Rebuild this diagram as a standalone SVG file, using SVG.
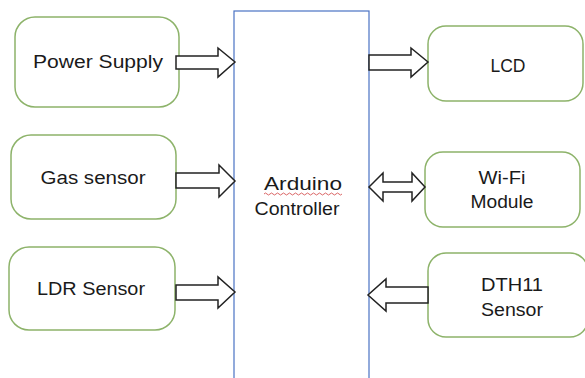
<svg xmlns="http://www.w3.org/2000/svg" width="585" height="378" viewBox="0 0 585 378">
<style>
.box{fill:#fff;stroke:#8db36a;stroke-width:1.5}
.ctrl{fill:#fff;stroke:#4a72c4;stroke-width:1.2}
.arr{fill:#fff;stroke:#222;stroke-width:1.5;stroke-linejoin:miter}
text{font-family:"Liberation Sans",Arial,sans-serif;font-size:18px;fill:#1a1a1a;text-anchor:middle}
</style>
<rect width="585" height="378" fill="#fff"/>
<g id="controller">
<rect class="ctrl" x="234" y="11" width="135" height="372"/>
<text x="303" y="190" textLength="78" lengthAdjust="spacingAndGlyphs">Arduino</text>
<path d="M264 194 q1.5 -2 3 0 t3 0 t3 0 t3 0 t3 0 t3 0 t3 0 t3 0 t3 0 t3 0 t3 0 t3 0 t3 0 t3 0 t3 0 t3 0 t3 0 t3 0 t3 0 t3 0 t3 0 t3 0 t3 0 t3 0 t3 0 t3 0" fill="none" stroke="#d04040" stroke-width="0.8"/>
<text x="297" y="215" textLength="85" lengthAdjust="spacingAndGlyphs">Controller</text>
</g>
<g id="power">
<rect class="box" x="15" y="17" width="164" height="90" rx="20"/>
<text x="98" y="68" textLength="130" lengthAdjust="spacingAndGlyphs">Power Supply</text>
</g>
<g id="gas">
<rect class="box" x="11" y="135" width="165" height="84" rx="20"/>
<text x="93" y="184" textLength="105" lengthAdjust="spacingAndGlyphs">Gas sensor</text>
</g>
<g id="ldr">
<rect class="box" x="9" y="247" width="166" height="83" rx="20"/>
<text x="91" y="295" textLength="108" lengthAdjust="spacingAndGlyphs">LDR Sensor</text>
</g>
<g id="lcd">
<rect class="box" x="428" y="26" width="155" height="75" rx="18"/>
<text x="508" y="72" textLength="35" lengthAdjust="spacingAndGlyphs">LCD</text>
</g>
<g id="wifi">
<rect class="box" x="425" y="152" width="155" height="75" rx="18"/>
<text x="502" y="184" textLength="47" lengthAdjust="spacingAndGlyphs">Wi-Fi</text>
<text x="502" y="208" textLength="63" lengthAdjust="spacingAndGlyphs">Module</text>
</g>
<g id="dth11">
<rect class="box" x="428" y="253" width="160" height="84" rx="18"/>
<text x="512" y="291" textLength="62" lengthAdjust="spacingAndGlyphs">DTH11</text>
<text x="512" y="316" textLength="62" lengthAdjust="spacingAndGlyphs">Sensor</text>
</g>
<g id="connectors">
<path class="arr" d="M176 56 H218 V48 L235 62 L218 77 V69 H176 Z"/>
<path class="arr" d="M176 173 H219 V165 L235 181 L219 197 V188 H176 Z"/>
<path class="arr" d="M176 285 H218 V277 L235 292 L218 308 V300 H176 Z"/>
<path class="arr" d="M369 55 H411 V48 L428 62 L411 77 V70 H369 Z"/>
<path class="arr" d="M369 187 L383 173 V182 H412 V173 L425 187 L412 201 V192 H383 V201 Z"/>
<path class="arr" d="M428 287 H386 V279 L368 295 L386 311 V303 H428 Z"/>
</g>
</svg>
